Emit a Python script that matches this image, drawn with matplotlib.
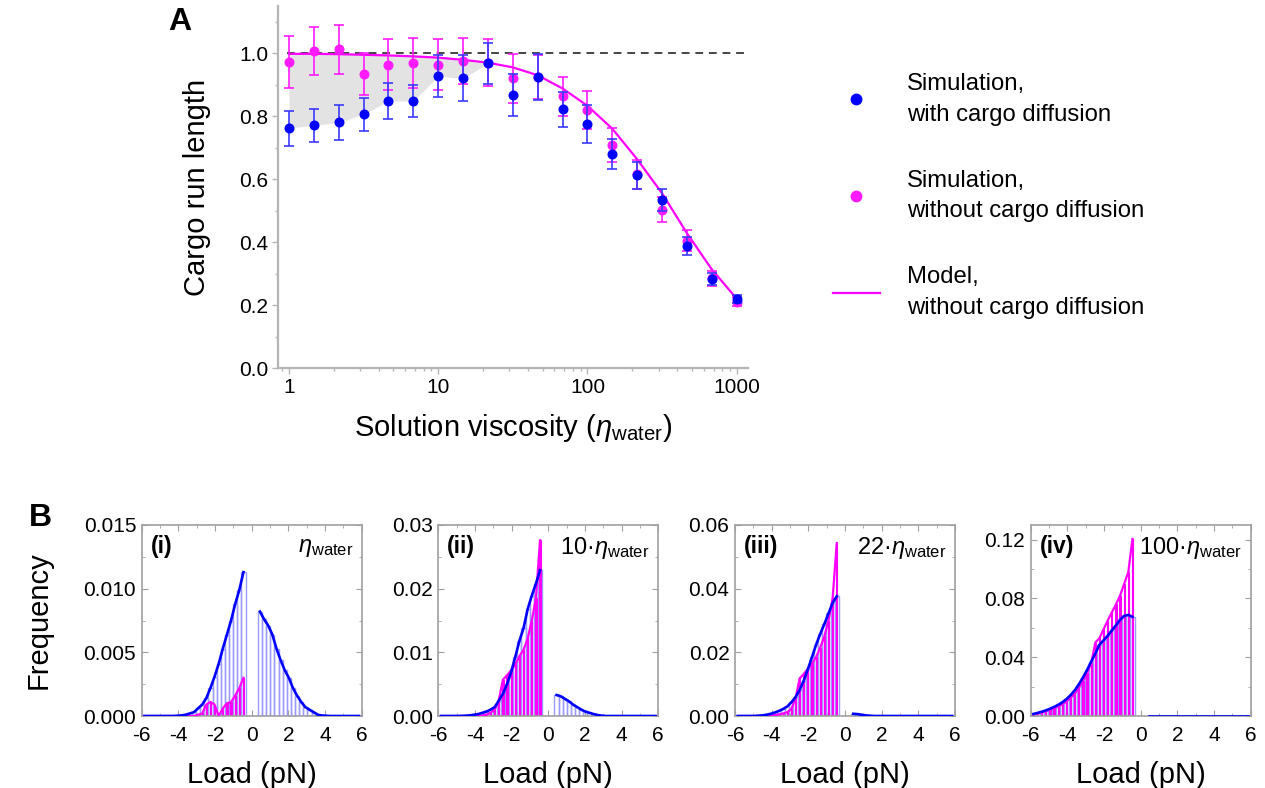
import numpy as np
import matplotlib
matplotlib.use("Agg")
import matplotlib.pyplot as plt
from matplotlib.lines import Line2D
from matplotlib.ticker import MultipleLocator, LogLocator, NullFormatter, FormatStrFormatter

plt.rcParams['font.family'] = ['Liberation Sans', 'DejaVu Sans']
plt.rcParams['mathtext.fontset'] = 'custom'
plt.rcParams['mathtext.rm'] = 'Liberation Sans'
plt.rcParams['mathtext.it'] = 'Liberation Sans:italic'
plt.rcParams['mathtext.bf'] = 'Liberation Sans:bold'

# ---------------- Panel A data ----------------
viscosity = [1, 1.468, 2.154, 3.162, 4.642, 6.813, 10, 14.68, 21.54, 31.62,
             46.42, 68.13, 100, 146.8, 215.4, 316.2, 464.2, 681.3, 1000]
run_with = [0.762, 0.771, 0.780, 0.806, 0.848, 0.848, 0.927, 0.920, 0.968, 0.867,
            0.924, 0.822, 0.775, 0.680, 0.613, 0.533, 0.387, 0.283, 0.219]
err_with = [0.056, 0.052, 0.057, 0.053, 0.057, 0.052, 0.067, 0.073, 0.066, 0.067,
            0.074, 0.056, 0.059, 0.049, 0.043, 0.035, 0.028, 0.019, 0.012]
run_without = [0.973, 1.007, 1.013, 0.935, 0.964, 0.969, 0.964, 0.975, 0.970, 0.920,
               0.925, 0.864, 0.819, 0.708, 0.615, 0.503, 0.404, 0.285, 0.211]
err_without = [0.082, 0.076, 0.078, 0.067, 0.080, 0.080, 0.080, 0.073, 0.075, 0.079,
               0.070, 0.062, 0.060, 0.055, 0.045, 0.040, 0.033, 0.024, 0.015]
model_run = [0.998, 0.998, 0.997, 0.995, 0.993, 0.990, 0.986, 0.979, 0.970, 0.955,
             0.930, 0.888, 0.833, 0.760, 0.663, 0.555, 0.428, 0.313, 0.220]
n_shaded = 9
reference_level = 1.0

# ---------------- Panel B data ----------------
load_neg = [-0.45, -0.675, -0.9, -1.125, -1.35, -1.575, -1.8, -2.025, -2.25, -2.475,
            -2.7, -2.925, -3.15, -3.375, -3.6, -3.825, -4.05, -4.275, -4.5, -4.725,
            -4.95, -5.175, -5.4, -5.625, -5.85]
load_pos = [0.45, 0.675, 0.9, 1.125, 1.35, 1.575, 1.8, 2.025, 2.25, 2.475,
            2.7, 2.925, 3.15, 3.375, 3.6, 3.825, 4.05, 4.275, 4.5, 4.725,
            4.95, 5.175, 5.4, 5.625, 5.85]
bin_width = 0.225

blue_neg_i = [0.0113, 0.0099, 0.0088, 0.0075, 0.0064, 0.0053, 0.0041, 0.0031, 0.0022, 0.0014,
              0.0009, 0.0006, 0.0003, 0.0002, 0.0001, 0.00005, 0.00002, 0, 0, 0, 0, 0, 0, 0, 0]
blue_pos_i = [0.0082, 0.0076, 0.0071, 0.0064, 0.0053, 0.0044, 0.0036, 0.0030, 0.0022, 0.0016,
              0.0011, 0.0007, 0.0005, 0.0003, 0.0001, 0.00004, 0.00002, 0, 0, 0, 0, 0, 0, 0, 0]
mag_neg_i = [0.0030, 0.0022, 0.0016, 0.0011, 0.0010, 0.0006, 0.0000, 0.0009, 0.0011, 0.0009,
             0.0002, 0.0001, 0, 0, 0, 0, 0, 0, 0, 0, 0, 0, 0, 0, 0]

blue_neg_ii = [0.0229, 0.0208, 0.0189, 0.0168, 0.0138, 0.0118, 0.0093, 0.0069, 0.0050, 0.0035,
               0.0024, 0.0014, 0.0010, 0.0007, 0.0005, 0.0003, 0.0002, 0.0001, 0.00005, 0.00002,
               0, 0, 0, 0, 0]
blue_pos_ii = [0.0033, 0.0031, 0.0027, 0.0023, 0.0018, 0.0014, 0.0010, 0.0007, 0.0005, 0.0003,
               0.00015, 0.00005, 0, 0, 0, 0, 0, 0, 0, 0, 0, 0, 0, 0, 0]
mag_neg_ii = [0.0276, 0.0185, 0.0150, 0.0122, 0.0104, 0.0094, 0.0081, 0.0072, 0.0064, 0.0057,
              0.0025, 0.0010, 0.0005, 0.0002, 0.0001, 0, 0, 0, 0, 0, 0, 0, 0, 0, 0]

blue_neg_iii = [0.0376, 0.0355, 0.0322, 0.0289, 0.0258, 0.0224, 0.0185, 0.0147, 0.0111, 0.0082,
                0.0059, 0.0043, 0.0030, 0.0022, 0.0016, 0.0011, 0.0007, 0.0004, 0.0002, 0.0001,
                0, 0, 0, 0, 0]
blue_pos_iii = [0.0007, 0.0006, 0.0004, 0.0002, 0.0001, 0, 0, 0, 0, 0, 0, 0, 0, 0, 0, 0, 0, 0,
                0, 0, 0, 0, 0, 0, 0]
mag_neg_iii = [0.0543, 0.0370, 0.0300, 0.0250, 0.0215, 0.0185, 0.0165, 0.0148, 0.0132, 0.0118,
               0.0055, 0.0022, 0.0012, 0.0008, 0.0005, 0.0003, 0.0001, 0, 0, 0, 0, 0, 0, 0, 0]

blue_neg_iv = [0.0675, 0.0688, 0.0682, 0.0655, 0.0617, 0.0582, 0.0546, 0.0515, 0.0485, 0.0425,
               0.0370, 0.0313, 0.0262, 0.0215, 0.0174, 0.0142, 0.0115, 0.0093, 0.0076, 0.0062,
               0.0049, 0.0038, 0.0029, 0.0021, 0.0014]
blue_pos_iv = [0] * 25
mag_neg_iv = [0.1205, 0.0980, 0.0900, 0.0820, 0.0760, 0.0705, 0.0650, 0.0590, 0.0530, 0.0500,
              0.0360, 0.0290, 0.0240, 0.0190, 0.0150, 0.0125, 0.0098, 0.0080, 0.0065, 0.0052,
              0.0042, 0.0033, 0.0025, 0.0018, 0.0012]

panel_tags = ['(i)', '(ii)', '(iii)', '(iv)']
panel_visc = [r'$\eta_{\rm water}$', r'10·$\eta_{\rm water}$', r'22·$\eta_{\rm water}$',
              r'100·$\eta_{\rm water}$']
panel_ymax = [0.015, 0.03, 0.06, 0.13]
panel_ystep = [0.005, 0.01, 0.02, 0.04]
panel_fmt = ['%.3f', '%.2f', '%.2f', '%.2f']
blue_neg_all = [blue_neg_i, blue_neg_ii, blue_neg_iii, blue_neg_iv]
blue_pos_all = [blue_pos_i, blue_pos_ii, blue_pos_iii, blue_pos_iv]
mag_neg_all = [mag_neg_i, mag_neg_ii, mag_neg_iii, mag_neg_iv]

# ---------------- Styles ----------------
BLUE = '#0000ff'
BLUE_ERR = '#3a3aff'
MAG = '#ff1aff'
MAG_LINE = '#ff00ff'
LIGHT_BLUE = '#9a9aff'
SPINE_A = '#b4b4b4'
SPINE_B = '#a0a0a0'

W, H = 1265, 788
fig = plt.figure(figsize=(W / 100, H / 100), dpi=100)

# ---------------- Panel A ----------------
axA = fig.add_axes([278 / W, 1 - 368 / H, 470 / W, 362 / H])
axA.set_xscale('log')
axA.set_xlim(0.845, 1190)
axA.set_ylim(0, 1.15)

axA.fill_between(viscosity[:n_shaded], run_with[:n_shaded], model_run[:n_shaded],
                 color='#e3e3e3', lw=0, zorder=1)
axA.hlines(reference_level, viscosity[0] * 0.97, viscosity[-1] * 1.13, colors='#444444',
           linestyles=(0, (4, 3)), lw=1.4, zorder=1.5)
axA.plot(viscosity, model_run, color=MAG_LINE, lw=1.6, zorder=2)
axA.errorbar(viscosity, run_without, yerr=err_without, fmt='o', color=MAG, ms=6.2,
             ecolor=MAG, elinewidth=1.2, capsize=3.5, capthick=1.2, zorder=3)
axA.errorbar(viscosity, run_with, yerr=err_with, fmt='o', color=BLUE, ms=6.2,
             ecolor=BLUE_ERR, elinewidth=1.2, capsize=3.5, capthick=1.2, zorder=4)

for s in ['top', 'right']:
    axA.spines[s].set_visible(False)
for s in ['left', 'bottom']:
    axA.spines[s].set_color(SPINE_A)
    axA.spines[s].set_linewidth(1.6)
axA.set_xticks([1, 10, 100, 1000])
axA.set_xticklabels(['1', '10', '100', '1000'])
axA.xaxis.set_minor_locator(LogLocator(base=10, subs=np.arange(2, 10)))
axA.xaxis.set_minor_formatter(NullFormatter())
axA.yaxis.set_major_locator(MultipleLocator(0.2))
axA.yaxis.set_minor_locator(MultipleLocator(0.1))
axA.yaxis.set_major_formatter(FormatStrFormatter('%.1f'))
axA.tick_params(which='major', direction='out', length=4, width=1, color=SPINE_A,
                labelsize=15, pad=3)
axA.tick_params(which='minor', direction='out', length=2.5, width=1, color=SPINE_A)
axA.set_xlabel(r'Solution viscosity ($\eta_{\rm water}$)', fontsize=21, labelpad=11)
axA.set_ylabel('Cargo run length', fontsize=21, labelpad=20)

handles = [Line2D([], [], marker='o', color=BLUE, ls='none', ms=7.5),
           Line2D([], [], marker='o', color=MAG, ls='none', ms=7.5),
           Line2D([], [], color=MAG_LINE, lw=1.6)]
labels = ['Simulation,\nwith cargo diffusion', 'Simulation,\nwithout cargo diffusion',
          'Model,\nwithout cargo diffusion']
leg = fig.legend(handles, labels, loc='upper left', bbox_to_anchor=(833 / W, 1 - 73 / H),
                 frameon=False, fontsize=17.2, handlelength=1.95, handletextpad=1.15,
                 labelspacing=1.85, borderpad=0, borderaxespad=0)
for t in leg.get_texts():
    t.set_linespacing(1.5)

fig.text(180 / W, 1 - 22 / H, 'A', fontsize=23, fontweight='bold', ha='center', va='center')
fig.text(40 / W, 1 - 518 / H, 'B', fontsize=23, fontweight='bold', ha='center', va='center')

# ---------------- Panel B ----------------
lefts = [141.7, 438.3, 735, 1030.7]
for i in range(4):
    ax = fig.add_axes([lefts[i] / W, 1 - 716 / H, 220 / W, 191 / H])
    ax.set_xlim(-6, 6)
    ax.set_ylim(0, panel_ymax[i])
    ax.bar(load_neg, blue_neg_all[i], width=bin_width, facecolor='none',
           edgecolor=LIGHT_BLUE, lw=1.0, zorder=1)
    ax.bar(load_pos, blue_pos_all[i], width=bin_width, facecolor='none',
           edgecolor=LIGHT_BLUE, lw=1.0, zorder=1)
    ax.bar(load_neg, mag_neg_all[i], width=bin_width * 0.3, facecolor=MAG_LINE,
           edgecolor=MAG_LINE, lw=0.8, zorder=2)
    ax.plot(load_neg, mag_neg_all[i], color=MAG_LINE, lw=1.6, zorder=3)
    ax.plot(load_neg, blue_neg_all[i], color=BLUE, lw=1.9, zorder=4)
    ax.plot(load_pos, blue_pos_all[i], color=BLUE, lw=1.9, zorder=4)

    for s in ax.spines.values():
        s.set_color(SPINE_B)
        s.set_linewidth(1.2)
    ax.xaxis.set_major_locator(MultipleLocator(2))
    ax.xaxis.set_minor_locator(MultipleLocator(1))
    ax.yaxis.set_major_locator(MultipleLocator(panel_ystep[i]))
    ax.yaxis.set_minor_locator(MultipleLocator(panel_ystep[i] / 2))
    ax.yaxis.set_major_formatter(FormatStrFormatter(panel_fmt[i]))
    ax.xaxis.set_major_formatter(FormatStrFormatter('%d'))
    ax.tick_params(which='both', direction='in', top=True, right=True, color=SPINE_B)
    ax.tick_params(which='major', length=4, labelsize=15)
    ax.tick_params(axis='x', which='major', pad=7)
    ax.tick_params(axis='y', which='major', pad=4)
    ax.tick_params(which='minor', length=2.5)
    ax.set_xlabel('Load (pN)', fontsize=21, labelpad=12)
    if i == 0:
        ax.set_ylabel('Frequency', fontsize=21, labelpad=22)
    ax.text(0.04, 0.89, panel_tags[i], transform=ax.transAxes, fontsize=16.5,
            fontweight='bold', ha='left', va='center')
    ax.text(0.96, 0.88, panel_visc[i], transform=ax.transAxes, fontsize=17,
            ha='right', va='center')

fig.savefig('out.png', dpi=100)
